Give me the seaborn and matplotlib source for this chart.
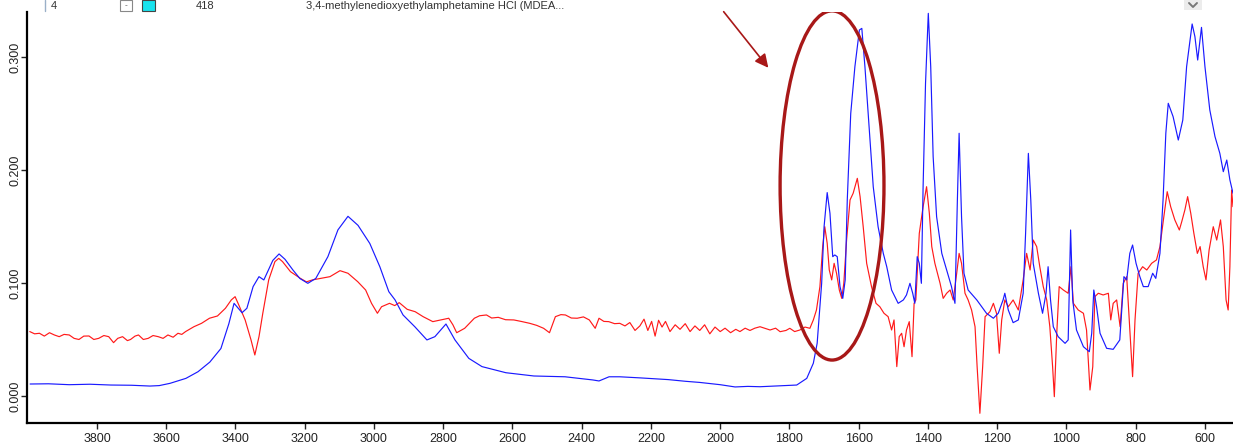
import matplotlib
matplotlib.use("Agg")
import matplotlib.pyplot as plt
from matplotlib.patches import Ellipse, Rectangle
from matplotlib.lines import Line2D
import seaborn as sns
import pandas as pd

# blue spectrum: wavenumber (cm-1) / absorbance
blue_wn = [3993, 3940, 3880, 3820, 3760, 3700, 3647, 3620, 3589, 3543, 3508, 3474,
           3442, 3419, 3404, 3381, 3367, 3349, 3332, 3318, 3292, 3274, 3257, 3234,
           3214, 3191, 3168, 3133, 3104, 3075, 3046, 3012, 2983, 2957, 2939, 2916,
           2882, 2847, 2824, 2792, 2766, 2726, 2688, 2619, 2538, 2448, 2368, 2350,
           2321, 2290, 2230, 2150, 2100, 2059, 2000, 1957, 1920, 1885, 1830, 1779,
           1750, 1731, 1720, 1707, 1700, 1691, 1683, 1675, 1669, 1662, 1654, 1646,
           1639, 1633, 1623, 1611, 1598, 1591, 1582, 1572, 1558, 1544, 1529, 1519,
           1505, 1486, 1471, 1462, 1452, 1444, 1438, 1431, 1425, 1419, 1414, 1407,
           1399, 1392, 1385, 1375, 1360, 1346, 1332, 1322, 1315, 1310, 1303, 1296,
           1284, 1259, 1231, 1211, 1197, 1183, 1178, 1168, 1154, 1139, 1125, 1118,
           1110, 1103, 1096, 1081, 1069, 1059, 1053, 1046, 1038, 1024, 1004, 995,
           988, 982, 971, 951, 934, 927, 921, 913, 903, 884, 865, 846, 834, 826,
           817, 809, 799, 788, 778, 764, 751, 742, 730, 721, 713, 706, 692, 677,
           664, 653, 637, 629, 621, 610, 600, 586, 571, 557, 547, 537, 528, 519]
blue_abs = [0.0106, 0.0108, 0.0100, 0.0104, 0.0097, 0.0095, 0.0088, 0.0092, 0.0112, 0.0156, 0.0215, 0.030,
            0.042, 0.064, 0.082, 0.0737, 0.0776, 0.0968, 0.1056, 0.1027, 0.120, 0.1257, 0.121, 0.1115,
            0.104, 0.0997, 0.104, 0.1233, 0.147, 0.159, 0.151, 0.135, 0.1144, 0.0923, 0.085, 0.0717,
            0.0613, 0.0496, 0.0525, 0.0637, 0.0496, 0.0333, 0.026, 0.0206, 0.0177, 0.017, 0.0142, 0.0133,
            0.017, 0.017, 0.016, 0.0145, 0.013, 0.012, 0.010, 0.008, 0.0085, 0.0082, 0.009, 0.0097,
            0.0156, 0.029, 0.0466, 0.0997, 0.1498, 0.180, 0.1617, 0.1233, 0.1248, 0.1233, 0.0968, 0.0864,
            0.1027, 0.1735, 0.250, 0.2914, 0.3239, 0.3253, 0.2914, 0.2472, 0.1852, 0.1498, 0.1262, 0.1144,
            0.0938, 0.082, 0.085, 0.0894, 0.0997, 0.0909, 0.082, 0.1233, 0.1174, 0.0997, 0.1852, 0.2767,
            0.3386, 0.2914, 0.2118, 0.1587, 0.1262, 0.1115, 0.0968, 0.082, 0.1735, 0.2325, 0.1587, 0.1086,
            0.0938, 0.085, 0.0732, 0.0688, 0.0732, 0.085, 0.0909, 0.0761, 0.0649, 0.0673, 0.0909, 0.1439,
            0.2147, 0.1735, 0.1174, 0.0909, 0.0732, 0.0909, 0.1144, 0.085, 0.0613, 0.0525, 0.0466, 0.0496,
            0.1469, 0.085, 0.0584, 0.0436, 0.0392, 0.0555, 0.0938, 0.079, 0.0555, 0.0422, 0.0413, 0.0496, 0.1056, 0.1027,
            0.1262, 0.1336, 0.1174, 0.1056, 0.0968, 0.0968, 0.1086, 0.1041, 0.1262, 0.1735, 0.2325, 0.259, 0.2472, 0.2265,
            0.2442, 0.2914, 0.3292, 0.318, 0.2973, 0.3262, 0.2914, 0.2531, 0.2295, 0.2147, 0.1985, 0.2088, 0.1912, 0.1794]

# red spectrum
red_wn = [3994, 3980, 3966, 3952, 3937, 3923, 3909, 3895, 3880, 3866, 3852, 3838,
          3823, 3809, 3795, 3780, 3766, 3752, 3740, 3726, 3712, 3703, 3690, 3680,
          3666, 3652, 3638, 3623, 3609, 3595, 3580, 3566, 3555, 3544, 3520, 3498,
          3475, 3452, 3429, 3412, 3401, 3389, 3372, 3355, 3344, 3332, 3321, 3304,
          3286, 3275, 3264, 3241, 3212, 3195, 3178, 3155, 3127, 3098, 3075, 3047,
          3024, 3007, 2990, 2978, 2955, 2940, 2927, 2904, 2881, 2858, 2830, 2807,
          2784, 2772, 2761, 2738, 2710, 2695, 2675, 2660, 2641, 2620, 2596, 2575,
          2550, 2530, 2510, 2493, 2476, 2460, 2447, 2430, 2413, 2395, 2378, 2361,
          2350, 2336, 2322, 2305, 2290, 2275, 2261, 2246, 2232, 2220, 2209, 2198,
          2188, 2178, 2168, 2158, 2145, 2130, 2116, 2101, 2087, 2073, 2059, 2045,
          2030, 2015, 2000, 1986, 1970, 1955, 1943, 1928, 1914, 1900, 1885, 1856,
          1840, 1827, 1810, 1799, 1785, 1770, 1755, 1741, 1731, 1722, 1712, 1704,
          1698, 1691, 1685, 1678, 1671, 1664, 1656, 1649, 1643, 1635, 1625, 1616,
          1604, 1596, 1587, 1577, 1563, 1550, 1539, 1527, 1515, 1505, 1498, 1490,
          1483, 1476, 1469, 1462, 1454, 1446, 1440, 1435, 1425, 1414, 1404, 1396,
          1389, 1380, 1365, 1356, 1346, 1336, 1327, 1317, 1310, 1303, 1293, 1284,
          1274, 1264, 1258, 1250, 1242, 1235, 1221, 1211, 1202, 1194, 1187, 1178,
          1168, 1154, 1139, 1125, 1115, 1105, 1096, 1086, 1077, 1067, 1057, 1048,
          1040, 1035, 1028, 1021, 1009, 995, 987, 980, 966, 951, 942, 932,
          924, 918, 908, 894, 879, 872, 865, 855, 845, 836, 826, 817,
          809, 802, 793, 780, 768, 754, 740, 730, 720, 709, 699, 687,
          674, 667, 658, 650, 641, 632, 622, 614, 605, 597, 588, 576,
          566, 555, 547, 539, 533, 528, 523, 519]
red_abs = [0.057, 0.055, 0.0555, 0.053, 0.056, 0.054, 0.0525, 0.0545, 0.054, 0.051, 0.050, 0.053,
           0.0531, 0.050, 0.051, 0.0535, 0.0525, 0.0472, 0.051, 0.0525, 0.049, 0.050, 0.053, 0.054,
           0.050, 0.051, 0.0535, 0.0525, 0.051, 0.054, 0.052, 0.0555, 0.0545, 0.057, 0.0613, 0.0643,
           0.0688, 0.0708, 0.0776, 0.085, 0.0879, 0.0796, 0.0673, 0.0496, 0.0363, 0.0525, 0.0732, 0.1027,
           0.1189, 0.1218, 0.1189, 0.110, 0.104, 0.101, 0.1027, 0.104, 0.1056, 0.1109, 0.1086, 0.1012,
           0.0938, 0.082, 0.0732, 0.079, 0.082, 0.080, 0.0826, 0.0767, 0.0746, 0.0702, 0.0658, 0.0673,
           0.0688, 0.063, 0.056, 0.0599, 0.0688, 0.071, 0.0717, 0.069, 0.0696, 0.0675, 0.0673, 0.066,
           0.0643, 0.0625, 0.0599, 0.056, 0.0702, 0.072, 0.0717, 0.069, 0.0688, 0.070, 0.0673, 0.0599,
           0.0688, 0.066, 0.0658, 0.064, 0.0643, 0.062, 0.065, 0.058, 0.062, 0.068, 0.058, 0.066,
           0.053, 0.067, 0.061, 0.066, 0.057, 0.063, 0.059, 0.064, 0.057, 0.062, 0.058, 0.063,
           0.055, 0.061, 0.057, 0.060, 0.056, 0.059, 0.057, 0.060, 0.058, 0.060, 0.0613, 0.0584,
           0.060, 0.0569, 0.058, 0.0599, 0.057, 0.0584, 0.061, 0.0599, 0.0673, 0.0761, 0.0968, 0.1322,
           0.1498, 0.1351, 0.1115, 0.1027, 0.1174, 0.1086, 0.0938, 0.0864, 0.0997, 0.138, 0.1735, 0.1794,
           0.1926, 0.1764, 0.1498, 0.1174, 0.0968, 0.082, 0.079, 0.0732, 0.0702, 0.0584, 0.0673, 0.026,
           0.0525, 0.0555, 0.0436, 0.0584, 0.0658, 0.0348, 0.082, 0.085, 0.1439, 0.1675, 0.1852, 0.1617,
           0.1322, 0.1174, 0.0997, 0.0864, 0.0909, 0.0938, 0.085, 0.1086, 0.1262, 0.1174, 0.0909, 0.085,
           0.0761, 0.0613, 0.026, -0.0153, 0.026, 0.0702, 0.0746, 0.082, 0.0732, 0.0378, 0.0673, 0.085,
           0.079, 0.085, 0.0761, 0.1027, 0.1262, 0.1115, 0.138, 0.1322, 0.1144, 0.0968, 0.085, 0.0613,
           0.026, -0.0006, 0.0555, 0.0968, 0.0938, 0.0909, 0.1144, 0.082, 0.0761, 0.0732, 0.0584, 0.0053,
           0.026, 0.0879, 0.0909, 0.0894, 0.0909, 0.0673, 0.082, 0.085, 0.0613, 0.0997, 0.1056, 0.0584,
           0.0171, 0.0673, 0.1086, 0.1144, 0.1115, 0.1174, 0.1204, 0.1322, 0.1558, 0.1808, 0.1675, 0.1558,
           0.1469, 0.1543, 0.1646, 0.1764, 0.1617, 0.1439, 0.1262, 0.1322, 0.1144, 0.1027, 0.1292, 0.1498,
           0.138, 0.1558, 0.1322, 0.085, 0.0761, 0.1144, 0.1823, 0.1675]

x_ticks = [3800, 3600, 3400, 3200, 3000, 2800, 2600, 2400, 2200, 2000, 1800, 1600, 1400, 1200, 1000, 800, 600]
y_ticks = [0.0, 0.1, 0.2, 0.3]
y_tick_labels = ["0.000", "0.100", "0.200", "0.300"]

header_row = ["4", "418", "3,4-methylenedioxyethylamphetamine HCl (MDEA..."]

sns.set_style("white")
plt.rcParams["font.family"] = ["Liberation Sans", "DejaVu Sans"]

W, H = 1233, 445
fig = plt.figure(figsize=(W / 100, H / 100), dpi=100)
ax = fig.add_axes([27 / W, 22 / H, 1 - 27 / W, (423 - 12) / H])

blue_df = pd.DataFrame({"wn": blue_wn, "abs": blue_abs})
red_df = pd.DataFrame({"wn": red_wn, "abs": red_abs})
sns.lineplot(data=red_df, x="wn", y="abs", color="#ff1a1a", lw=0.85, estimator=None, ax=ax)
sns.lineplot(data=blue_df, x="wn", y="abs", color="#1a1aff", lw=0.85, estimator=None, ax=ax)

ax.set_xlim(4002, 519)
ax.set_ylim(-0.0239, 0.3398)
ax.set_xlabel("")
ax.set_ylabel("")
ax.set_xticks(x_ticks)
ax.set_xticklabels([str(t) for t in x_ticks])
ax.set_yticks(y_ticks)
ax.set_yticklabels(y_tick_labels, rotation=90, va="center", ha="center")
ax.tick_params(axis="both", direction="out", length=4, width=1, colors="#222222",
               labelsize=9, left=True, bottom=True)
ax.tick_params(axis="x", pad=3)
ax.tick_params(axis="y", pad=4.5)
for side in ["top", "right"]:
    ax.spines[side].set_visible(False)
for side in ["left", "bottom"]:
    ax.spines[side].set_color("black")
    ax.spines[side].set_linewidth(1.6)

# annotation: ellipse around the 1700-1600 region and arrow
dark_red = "#a81818"
ax.add_patch(Ellipse((1677, 0.1863), width=300, height=0.309, fill=False,
                     ec=dark_red, lw=2.4, zorder=5))
ax.annotate("", xy=(1856, 0.2885), xytext=(1995, 0.342), annotation_clip=False,
            arrowprops=dict(arrowstyle="-|>", color=dark_red, lw=1.2, mutation_scale=20))

# table row shown above the plot
def fx(px):
    return px / W

def fy(py):
    return 1 - py / H

fig.add_artist(Line2D([fx(45), fx(45)], [fy(0), fy(11)], color="#9ab0c8", lw=1))
fig.text(fx(51), fy(6), header_row[0], fontsize=8, va="center", ha="left", color="#333333")
fig.add_artist(Rectangle((fx(120), fy(11)), 12 / W, 11 / H, fill=False, ec="#888888", lw=0.8))
fig.text(fx(126), fy(6), "-", fontsize=6, va="center", ha="center", color="#555555")
fig.add_artist(Rectangle((fx(142), fy(11)), 13 / W, 11 / H, fc="#19e3ee", ec="#444444", lw=0.8))
fig.text(fx(196), fy(6), header_row[1], fontsize=8, va="center", ha="left", color="#333333")
fig.text(fx(306), fy(6), header_row[2], fontsize=8, va="center", ha="left", color="#333333")
fig.add_artist(Rectangle((fx(1184), fy(10)), 18 / W, 10 / H, fc="#ececec", ec="none"))
fig.add_artist(Line2D([fx(1189), fx(1193), fx(1197)], [fy(3), fy(7), fy(3)], color="#777777", lw=1.4))

fig.savefig("out.png", dpi=100)
